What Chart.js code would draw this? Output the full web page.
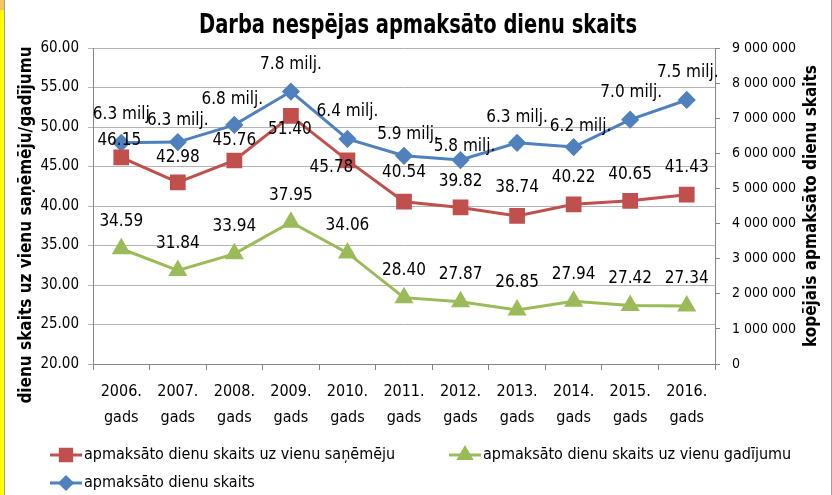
<!DOCTYPE html>
<html>
<head>
<meta charset="utf-8">
<script src="https://cdn.jsdelivr.net/npm/chart.js@4.4.1/dist/chart.umd.min.js"></script>
<style>
  html, body { margin: 0; padding: 0; background: #fff; }
  #wrap { width: 832px; height: 495px; }
</style>
</head>
<body>
<div id="wrap"><canvas id="chart" width="832" height="495"></canvas></div>
<script>
const years = ['2006.', '2007.', '2008.', '2009.', '2010.', '2011.', '2012.', '2013.', '2014.', '2015.', '2016.'];
const perRecipient = [46.15, 42.98, 45.76, 51.40, 45.78, 40.54, 39.82, 38.74, 40.22, 40.65, 41.43];
const perCase = [34.59, 31.84, 33.94, 37.95, 34.06, 28.40, 27.87, 26.85, 27.94, 27.42, 27.34];
const totalDays = [6300000, 6320000, 6810000, 7760000, 6410000, 5930000, 5810000, 6300000, 6180000, 6960000, 7520000];
const totalLabels = ['6.3 milj', '6.3 milj.', '6.8 milj.', '7.8 milj.', '6.4 milj.', '5.9 milj.', '5.8 milj.', '6.3 milj.', '6.2 milj.', '7.0 milj.', '7.5 milj.'];
const leftMin = 20, leftMax = 60, leftStep = 5;
const rightMin = 0, rightMax = 9000000, rightStep = 1000000;

const FONT = '"DejaVu Sans Condensed", "Liberation Sans", sans-serif';
const RED = '#C0504D', GREEN = '#9BBB59', BLUE = '#4F81BD';

Chart.defaults.font.family = FONT;
Chart.defaults.color = '#000';

// label offsets (dx, dy) from each point
const redOffsets = [[-2, -17], [0, -25], [0, -20], [-1, 14], [-16, 7], [0, -29], [0, -26], [0, -28], [0, -27], [0, -26], [0, -27]];
const greenOffsets = years.map(() => [0, -27]);
const blueOffsets = [[0, -28], [0, -22], [-2, -25], [0, -27], [0, -27], [4, -21], [4, -13], [0, -25], [7, -20], [1, -27], [1, -27]];

// draw text squeezed horizontally to a given width (Excel's Calibri is narrow)
function squeezeText(ctx, text, x, y, width) {
  const w = ctx.measureText(text).width;
  const sx = width ? Math.min(1, width / w) : 1;
  ctx.save();
  ctx.translate(x, y);
  ctx.scale(sx, 1);
  ctx.fillText(text, 0, 0);
  ctx.restore();
}

const decor = {
  id: 'decor',
  beforeDraw(chart) {
    const ctx = chart.ctx;
    ctx.save();
    ctx.fillStyle = '#fff';
    ctx.fillRect(0, 0, chart.width, chart.height);
    ctx.fillStyle = '#FFFF00';
    ctx.fillRect(0, 0, 4, chart.height);
    ctx.fillStyle = '#F2C75C';
    ctx.fillRect(0, 0, 4, 10);
    ctx.fillStyle = '#A0A0A0';
    ctx.fillRect(4, 0, 1, chart.height);
    ctx.fillRect(831, 0, 1, chart.height);
    ctx.restore();
  },
  afterDatasetsDraw(chart) {
    const ctx = chart.ctx;
    ctx.save();
    ctx.fillStyle = '#000';
    ctx.textAlign = 'center';
    ctx.textBaseline = 'middle';
    ctx.font = '17px ' + FONT;
    const sets = [
      [0, perRecipient.map(v => v.toFixed(2)), redOffsets],
      [1, perCase.map(v => v.toFixed(2)), greenOffsets],
      [2, totalLabels, blueOffsets]
    ];
    sets.forEach(([di, texts, offs]) => {
      chart.getDatasetMeta(di).data.forEach((pt, i) => {
        ctx.fillText(texts[i], pt.x + offs[i][0], pt.y + offs[i][1]);
      });
    });

    // title
    ctx.font = 'bold 27px ' + FONT;
    squeezeText(ctx, 'Darba nespējas apmaksāto dienu skaits', 418, 26, 438);

    // axis titles (both read bottom to top)
    ctx.font = 'bold 17px ' + FONT;
    ctx.save();
    ctx.translate(27, 225);
    ctx.rotate(-Math.PI / 2);
    ctx.fillText('dienu skaits uz vienu saņēmēju/gadījumu', 0, 0);
    ctx.restore();
    ctx.save();
    ctx.translate(812, 206);
    ctx.rotate(-Math.PI / 2);
    ctx.fillText('kopējais apmaksāto dienu skaits', 0, 0);
    ctx.restore();

    // legend
    const items = [
      [chart.data.datasets[0], 50, 455],
      [chart.data.datasets[1], 449, 455],
      [chart.data.datasets[2], 50, 483]
    ];
    ctx.font = '16px ' + FONT;
    ctx.textAlign = 'left';
    items.forEach(([ds, x, y]) => {
      ctx.strokeStyle = ds.borderColor;
      ctx.lineWidth = 3;
      ctx.beginPath();
      ctx.moveTo(x, y);
      ctx.lineTo(x + 32, y);
      ctx.stroke();
      ctx.fillStyle = ds.pointBackgroundColor;
      ctx.strokeStyle = ds.pointBorderColor;
      Chart.helpers.drawPoint(ctx, { pointStyle: ds.pointStyle, radius: ds.pointRadius - 1, borderWidth: 1 }, x + 16, y);
      ctx.fillStyle = '#000';
      ctx.fillText(ds.label, x + 34, y);
    });
    ctx.restore();
  }
};

new Chart(document.getElementById('chart'), {
  type: 'line',
  data: {
    labels: years.map(y => [y, 'gads']),
    datasets: [{
      label: 'apmaksāto dienu skaits uz vienu saņēmēju',
      data: perRecipient,
      borderColor: RED,
      backgroundColor: RED,
      pointBackgroundColor: RED,
      pointBorderColor: RED,
      pointStyle: 'rect',
      pointRadius: 9,
      borderWidth: 3,
      yAxisID: 'y'
    }, {
      label: 'apmaksāto dienu skaits uz vienu gadījumu',
      data: perCase,
      borderColor: GREEN,
      backgroundColor: GREEN,
      pointBackgroundColor: GREEN,
      pointBorderColor: GREEN,
      pointStyle: 'triangle',
      pointRadius: 8,
      borderWidth: 3,
      yAxisID: 'y'
    }, {
      label: 'apmaksāto dienu skaits',
      data: totalDays,
      borderColor: BLUE,
      backgroundColor: BLUE,
      pointBackgroundColor: BLUE,
      pointBorderColor: BLUE,
      pointStyle: 'rectRot',
      pointRadius: 7,
      borderWidth: 3,
      yAxisID: 'y2'
    }]
  },
  options: {
    responsive: false,
    animation: false,
    layout: { padding: { top: 48, bottom: 61, left: 0, right: 0 } },
    plugins: {
      legend: { display: false },
      title: { display: false },
      tooltip: { enabled: false }
    },
    scales: {
      x: {
        offset: true,
        grid: { drawOnChartArea: false, offset: true, tickLength: 6, color: '#868686' },
        border: { color: '#868686' },
        ticks: { font: { size: 16, lineHeight: 1.625 }, padding: 9, maxRotation: 0, autoSkip: false, color: '#000' },
        afterFit(s) { s.height = 70; }
      },
      y: {
        position: 'left',
        min: leftMin,
        max: leftMax,
        ticks: { stepSize: leftStep, font: { size: 15 }, padding: 9, color: '#000',
          callback: v => v.toFixed(2) },
        grid: { color: '#B4B4B4', tickLength: 5 },
        border: { color: '#868686' },
        afterFit(s) { s.width = 93; }
      },
      y2: {
        position: 'right',
        min: rightMin,
        max: rightMax,
        ticks: { stepSize: rightStep, font: { size: 14 }, padding: 12, color: '#000',
          callback: v => String(v).replace(/\B(?=(\d{3})+(?!\d))/g, ' ') },
        grid: { drawOnChartArea: false, tickLength: 5, color: '#868686' },
        border: { color: '#868686' },
        afterFit(s) { s.width = 117; }
      }
    }
  },
  plugins: [decor]
});
</script>
</body>
</html>
